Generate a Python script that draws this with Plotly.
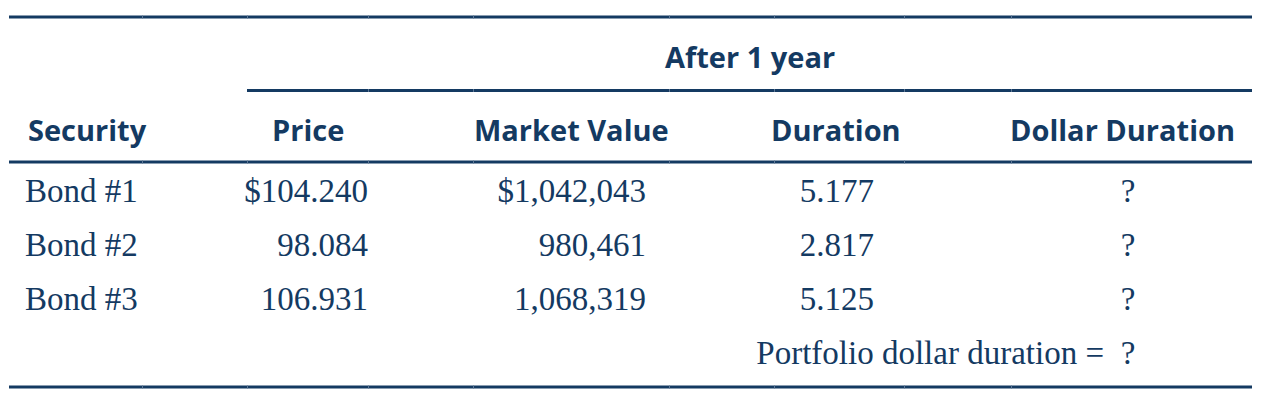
import plotly.graph_objects as go

# ---- data ----
securities = ["Bond #1", "Bond #2", "Bond #3"]
prices = ["$104.240", "98.084", "106.931"]
market_values = ["$1,042,043", "980,461", "1,068,319"]
durations = ["5.177", "2.817", "5.125"]
dollar_durations = ["?", "?", "?"]
group_header = "After 1 year"
headers = ["Security", "Price", "Market Value", "Duration", "Dollar Duration"]
portfolio_label = "Portfolio dollar duration ="
portfolio_value = "?"

NAVY = "#143a62"
HEAD_FONT = dict(family="Open Sans", size=29, color=NAVY)
BODY_FONT = dict(family="Liberation Serif", size=33, color=NAVY)

W, H = 1274, 402
OFF = 8  # page body margin
row_y = [194 + 54 * i for i in range(len(securities) + 1)]

fig = go.Figure()

cols = [
    (securities, 25, "middle right"),
    (prices, 368, "middle left"),
    (market_values, 646, "middle left"),
    (durations, 874, "middle left"),
]
for vals, xa, pos in cols:
    fig.add_trace(go.Scatter(
        x=[xa] * len(vals), y=row_y[:len(vals)], mode="text", text=vals,
        textposition=pos, textfont=BODY_FONT, hoverinfo="skip", showlegend=False))
fig.add_trace(go.Scatter(
    x=[1128] * len(dollar_durations), y=row_y[:len(dollar_durations)], mode="text",
    text=dollar_durations, textposition="middle center", textfont=BODY_FONT,
    hoverinfo="skip", showlegend=False))
fig.add_trace(go.Scatter(
    x=[1104], y=[row_y[3]], mode="text", text=[portfolio_label],
    textposition="middle left", textfont=BODY_FONT, hoverinfo="skip", showlegend=False))
fig.add_trace(go.Scatter(
    x=[1128], y=[row_y[3]], mode="text", text=[portfolio_value],
    textposition="middle center", textfont=BODY_FONT, hoverinfo="skip", showlegend=False))

head_x = [(26, "left"), (308, "center"), (571, "center"), (836, "center"), (1122, "center")]
annotations = []
for txt, (hx, al) in zip(headers, head_x):
    annotations.append(dict(x=hx, y=129, text=f"<b>{txt}</b>", showarrow=False,
                            xanchor=al, yanchor="middle", font=HEAD_FONT))
annotations.append(dict(x=750, y=56, text=f"<b>{group_header}</b>", showarrow=False,
                        xanchor="center", yanchor="middle", font=HEAD_FONT))

shapes = []
def rule(x0, x1, y):
    shapes.append(dict(type="line", x0=x0, x1=x1, y0=y, y1=y,
                       line=dict(color=NAVY, width=3), layer="below"))
rule(9, 1252, 17)
rule(247, 1252, 90.5)
rule(9, 1252, 162)
rule(9, 1252, 387)
joints = [142, 247, 368, 473, 669, 774, 904, 1011]
for y, xs in [(17, joints), (90.5, joints[2:]), (162, joints), (387, joints)]:
    for xj in xs:
        shapes.append(dict(type="line", x0=xj, x1=xj + 1, y0=y, y1=y,
                           line=dict(color="#5c7694", width=3), layer="below"))

fig.update_layout(
    width=W - OFF, height=H - OFF, margin=dict(l=0, r=0, t=0, b=0),
    paper_bgcolor="white", plot_bgcolor="white",
    xaxis=dict(range=[OFF, W], visible=False, fixedrange=True),
    yaxis=dict(range=[H, OFF], visible=False, fixedrange=True),
    annotations=annotations, shapes=shapes,
)
fig.write_html("out.html")
